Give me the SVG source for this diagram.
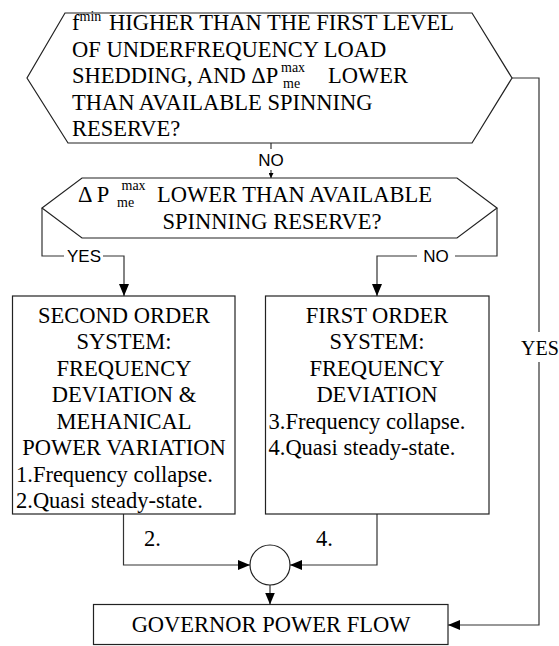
<svg xmlns="http://www.w3.org/2000/svg" width="559" height="646" viewBox="0 0 559 646">
<style>
.shape{fill:#fff;stroke:#222;stroke-width:1.2}
.ln{fill:none;stroke:#333;stroke-width:1.2}
.t{font-family:"Liberation Serif","Times New Roman",serif;font-size:22.5px;fill:#000}
.s{font-size:14px}
.lab{font-family:"Liberation Sans",Arial,sans-serif;font-size:17px;fill:#000}
</style>
<defs>
<marker id="ah" markerUnits="userSpaceOnUse" markerWidth="12" markerHeight="10" refX="12" refY="5" orient="auto">
<path d="M0,0 L12,5 L0,10 z" fill="#000"/>
</marker>
<marker id="ahs" markerUnits="userSpaceOnUse" markerWidth="5" markerHeight="5" refX="5" refY="2.5" orient="auto">
<path d="M0,0 L5,2.5 L0,5 z" fill="#000"/>
</marker>
</defs>
<rect width="559" height="646" fill="#fff"/>

<g id="connectors">
<path class="ln" d="M271,143 V149"/>
<path class="ln" d="M271,170 V178" marker-end="url(#ahs)"/>
<text class="lab" x="271" y="166" text-anchor="middle">NO</text>
<path class="ln" d="M42,208 V256 H64"/>
<path class="ln" d="M103,256 H124 V296" marker-end="url(#ah)"/>
<text class="lab" x="84" y="262" text-anchor="middle">YES</text>
<path class="ln" d="M497,208 V256 H455"/>
<path class="ln" d="M417,256 H377 V296" marker-end="url(#ah)"/>
<text class="lab" x="436" y="262" text-anchor="middle">NO</text>
<path class="ln" d="M512,78 H539 V332"/>
<path class="ln" d="M539,362 V625 H448" marker-end="url(#ah)"/>
<text class="t" x="540" y="355" text-anchor="middle" style="font-size:20px">YES</text>
<path class="ln" d="M123.5,514 V565 H250" marker-end="url(#ah)"/>
<path class="ln" d="M377,514 V565 H290" marker-end="url(#ah)"/>
<path class="ln" d="M270,585 V604.5" marker-end="url(#ah)"/>
<text class="t" x="144" y="546">2.</text>
<text class="t" x="316" y="546">4.</text>
</g>

<g id="decision1">
<polygon class="shape" points="65,13 472,13 512,78 472,143 68,143 27,78"/>
<text class="t" x="72" y="30">f<tspan class="s" dy="-9">min</tspan></text>
<text class="t" x="109" y="30">HIGHER THAN THE FIRST LEVEL</text>
<text class="t" x="72" y="56.5">OF UNDERFREQUENCY LOAD</text>
<text class="t" x="72" y="83">SHEDDING, AND ΔP</text>
<text class="t s" x="281" y="72">max</text>
<text class="t s" x="283" y="88">me</text>
<text class="t" x="328" y="83">LOWER</text>
<text class="t" x="72" y="109.5">THAN AVAILABLE SPINNING</text>
<text class="t" x="72" y="136">RESERVE?</text>
</g>

<g id="decision2">
<polygon class="shape" points="82,178 457,178 497,208 457,238 82,238 42,208"/>
<text class="t" x="78" y="202">Δ P</text>
<text class="t s" x="121.5" y="190">max</text>
<text class="t s" x="117" y="207">me</text>
<text class="t" x="157" y="202">LOWER THAN AVAILABLE</text>
<text class="t" x="272" y="228.5" text-anchor="middle">SPINNING RESERVE?</text>
</g>

<g id="second-order">
<rect class="shape" x="12.5" y="296" width="222.5" height="218"/>
<g class="t" text-anchor="middle">
<text x="124" y="322.5">SECOND ORDER</text>
<text x="124" y="349">SYSTEM:</text>
<text x="124" y="375.5">FREQUENCY</text>
<text x="124" y="402">DEVIATION &amp;</text>
<text x="124" y="428.5">MEHANICAL</text>
<text x="124" y="455">POWER VARIATION</text>
</g>
<text class="t" x="16" y="481.5">1.Frequency collapse.</text>
<text class="t" x="16" y="508">2.Quasi steady-state.</text>
</g>

<g id="first-order">
<rect class="shape" x="265.5" y="296" width="223.5" height="218"/>
<g class="t" text-anchor="middle">
<text x="377" y="322.5">FIRST ORDER</text>
<text x="377" y="349">SYSTEM:</text>
<text x="377" y="375.5">FREQUENCY</text>
<text x="377" y="402">DEVIATION</text>
</g>
<text class="t" x="268.5" y="428.5">3.Frequency collapse.</text>
<text class="t" x="268.5" y="455">4.Quasi steady-state.</text>
</g>

<g id="junction">
<circle class="shape" cx="270" cy="565" r="20"/>
</g>

<g id="governor">
<rect class="shape" x="93.5" y="604.5" width="354.5" height="40"/>
<text class="t" x="271" y="632" text-anchor="middle">GOVERNOR POWER FLOW</text>
</g>
</svg>
